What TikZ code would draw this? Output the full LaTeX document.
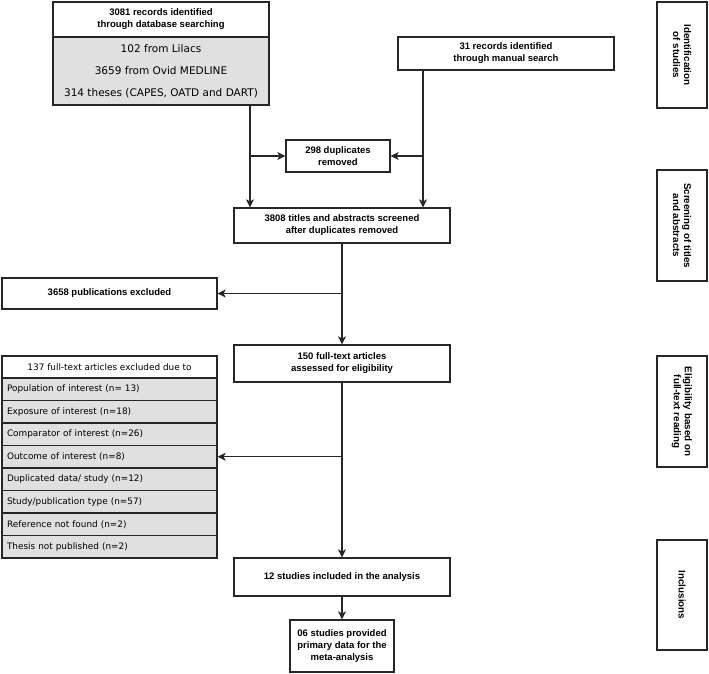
\documentclass[tikz,border=0pt]{standalone}
\usepackage{fontspec}
\setmainfont{Liberation Sans}
\newfontfamily\verd{DejaVu Sans}
\usetikzlibrary{arrows.meta}
\begin{document}
\begin{tikzpicture}[x=1pt,y=-1pt,
  box/.style={draw=black!85, line width=1.2pt, fill=white, inner sep=0pt, align=center,
    font=\bfseries\fontsize{9.5}{12}\selectfont},
  graybox/.style={draw=black!85, line width=1.2pt, fill=black!12, inner sep=0pt},
  row/.style={graybox, minimum width=215pt, minimum height=22.5pt, text width=205pt, align=left,
    font=\verd\fontsize{8.9}{11}\selectfont},
  side/.style={box, rotate=-90, minimum height=50pt, font=\bfseries\fontsize{9.8}{11}\selectfont},
  arr/.style={line width=1.2pt, draw=black!85, -{Stealth[length=8pt,width=8pt,inset=2pt]}},
]
\fill[white] (0,0) rectangle (709,674);
\useasboundingbox (0,0) rectangle (709,674);

% top left database box
\node[box, minimum width=216pt, minimum height=35pt] (db) at (161,19.5)
  {3081 records identified\\through database searching};
\node[graybox, minimum width=216pt, minimum height=68pt, align=center,
  font=\verd\fontsize{10.5}{22}\selectfont] (dbgray) at (161,71)
  {102 from Lilacs\\3659 from Ovid MEDLINE\\314 theses (CAPES, OATD and DART)};

% manual search
\node[box, minimum width=216pt, minimum height=33pt] (manual) at (506,53.5)
  {31 records identified\\through manual search};

% duplicates
\node[box, minimum width=104pt, minimum height=32pt] (dupl) at (338,156)
  {298 duplicates\\removed};

% screening
\node[box, minimum width=216pt, minimum height=35pt] (screen) at (342,225.5)
  {3808 titles and abstracts screened\\after duplicates removed};

% excluded publications
\node[box, minimum width=215pt, minimum height=31pt] (excl) at (109.5,293.5)
  {3658 publications excluded};

% full text
\node[box, minimum width=216pt, minimum height=37pt] (ft) at (342,363.5)
  {150 full-text articles\\assessed for eligibility};

% exclusion reasons
\node[box, minimum width=215pt, minimum height=22pt, font=\verd\fontsize{8.9}{11}\selectfont] (h137) at (109.5,367)
  {137 full-text articles excluded due to};
\node[row] (r1) at (109.5,389.25) {Population of interest (n= 13)};
\node[row] (r2) at (109.5,411.75) {Exposure of interest (n=18)};
\node[row] (r3) at (109.5,434.25) {Comparator of interest (n=26)};
\node[row] (r4) at (109.5,456.75) {Outcome of interest (n=8)};
\node[row] (r5) at (109.5,479.25) {Duplicated data/ study (n=12)};
\node[row] (r6) at (109.5,501.75) {Study/publication type (n=57)};
\node[row] (r7) at (109.5,524.25) {Reference not found (n=2)};
\node[row] (r8) at (109.5,546.75) {Thesis not published (n=2)};

% included
\node[box, minimum width=216pt, minimum height=38pt] (inc) at (342,577)
  {12 studies included in the analysis};
\node[box, minimum width=104pt, minimum height=52pt] (meta) at (342,646)
  {06 studies provided\\primary data for the\\meta-analysis};

% side labels
\node[side, minimum width=106pt] (s1) at (682,55) {Identification\\of studies};
\node[side, minimum width=111pt] (s2) at (682,225.5) {Screening of titles\\and abstracts};
\node[side, minimum width=111pt] (s3) at (682,411.5) {Eligibility based on\\full-text reading};
\node[side, minimum width=110pt] (s4) at (682,595) {Inclusions};

% connectors
\draw[arr] ([xshift=89pt]dbgray.south) coordinate (a1) -- (a1 |- screen.north);
\draw[arr] (a1 |- dupl.west) -- (dupl.west);
\draw[arr] ([xshift=-83pt]manual.south) coordinate (a2) -- (a2 |- screen.north);
\draw[arr] (a2 |- dupl.east) -- (dupl.east);
\draw[arr] (screen.south) -- (ft.north);
\draw[arr] (screen.south |- excl.east) -- (excl.east);
\draw[arr] (ft.south) -- (inc.north);
\draw[arr] (ft.south |- r4.east) -- (r4.east);
\draw[arr] (inc.south) -- (meta.north);
\end{tikzpicture}
\end{document}
